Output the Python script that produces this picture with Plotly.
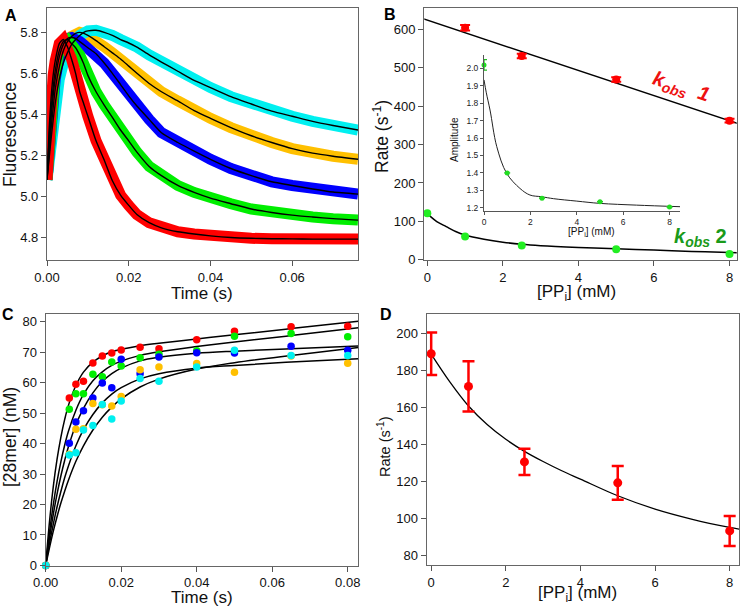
import plotly.graph_objects as go

# ---- panel A: stopped-flow fluorescence traces
a_time = [0, 0.0005, 0.001, 0.0015, 0.002, 0.003, 0.004, 0.005, 0.006, 0.007,
          0.008, 0.009, 0.010, 0.012, 0.014, 0.016, 0.018, 0.020, 0.022, 0.025,
          0.028, 0.032, 0.036, 0.040, 0.045, 0.050, 0.055, 0.060, 0.065, 0.070, 0.0761]
a_red = [5.08, 5.32, 5.48, 5.59, 5.66, 5.745, 5.765, 5.73, 5.67, 5.60,
         5.51, 5.45, 5.39, 5.27, 5.176, 5.075, 5.005, 4.955, 4.91, 4.87,
         4.845, 4.826, 4.815, 4.806, 4.798, 4.794, 4.792, 4.791, 4.790, 4.790, 4.790]
a_green = [5.08, 5.27, 5.42, 5.53, 5.61, 5.71, 5.755, 5.765, 5.745, 5.725,
           5.69, 5.645, 5.59, 5.51, 5.445, 5.385, 5.323, 5.27, 5.215, 5.145,
           5.10, 5.052, 5.018, 4.99, 4.963, 4.937, 4.92, 4.907, 4.898, 4.89, 4.883]
a_blue = [5.08, 5.24, 5.38, 5.49, 5.57, 5.68, 5.74, 5.77, 5.775, 5.77,
          5.755, 5.74, 5.725, 5.695, 5.65, 5.60, 5.545, 5.49, 5.44, 5.375,
          5.31, 5.262, 5.22, 5.18, 5.135, 5.10, 5.07, 5.052, 5.035, 5.02, 5.01]
a_orange = [5.08, 5.20, 5.33, 5.43, 5.52, 5.63, 5.71, 5.755, 5.78, 5.795,
            5.80, 5.795, 5.785, 5.76, 5.73, 5.70, 5.67, 5.635, 5.60, 5.55,
            5.51, 5.465, 5.418, 5.38, 5.335, 5.295, 5.262, 5.232, 5.21, 5.195, 5.18]
a_cyan = [5.08, 5.18, 5.28, 5.37, 5.45, 5.57, 5.65, 5.70, 5.74, 5.765,
          5.785, 5.80, 5.807, 5.81, 5.80, 5.785, 5.765, 5.748, 5.728, 5.69,
          5.655, 5.61, 5.565, 5.53, 5.486, 5.45, 5.415, 5.39, 5.365, 5.345, 5.323]

# ---- panel B: observed rates vs [PPi], inset amplitude
b_ppi = [0, 1, 2.5, 5, 8]
b_k1_x = [1, 2.5, 5, 8]
b_k1 = [603.5, 530, 469, 362]
b_k1_err = [7, 6, 6, 5]
b_k1_fit_x = [-0.1, 8.3]
b_k1_fit = [626.5, 351.8]
b_k2 = [121, 60.6, 37.2, 27.7, 15.6]
b_k2_fit_x = [-0.1, 0, 0.25, 0.5, 0.75, 1, 1.5, 2, 2.5, 3, 4, 5, 6, 7, 8, 8.3]
b_k2_fit = [126, 119.5, 99.6, 86.6, 74, 65, 54, 46, 40.5, 37, 32.5, 29, 25.5, 22, 19, 18]
inset_amp = [2.02, 1.40, 1.255, 1.235, 1.204]
inset_err = [0.03, 0, 0, 0, 0]
inset_fit_x = [0, 0.1, 0.26, 0.55, 0.98, 1.55, 1.98, 2.49, 3, 4, 5, 6.58, 8.45]
inset_fit = [1.934, 1.86, 1.761, 1.551, 1.397, 1.311, 1.273, 1.263, 1.252, 1.238, 1.225, 1.215, 1.206]

# ---- panel C: quench-flow product formation
c_time = [0, 0.00625, 0.008, 0.01, 0.0125, 0.015, 0.0175, 0.02, 0.025, 0.03, 0.04, 0.05, 0.065, 0.08]
c_red = [0, 55.0, 59.5, 60.5, 66.5, 68.8, 69.8, 70.8, 71.7, 71.2, 74.1, 76.9, 78.4, 78.6]
c_green = [0, 51.3, 56.4, 56.4, 62.8, 62.0, 66.8, 65.5, 68.2, 69.4, 70.5, 75.3, 76.2, 75.1]
c_blue = [0, 40.1, 47.1, 50.8, 55.0, 59.9, 58.4, 67.7, 63.0, 68.5, 69.9, 69.8, 72.0, 70.7]
c_orange = [0, 36.5, 44.7, 44.9, 53.2, 52.8, 52.4, 55.5, 64.3, 65.2, 66.3, 63.5, 68.8, 66.4]
c_cyan = [0, 36.3, 37.0, 44.5, 46.0, 52.9, 48.1, 54.0, 61.4, 60.5, 65.2, 70.7, 69.0, 69.0]
c_fit_t = [0, 0.001, 0.002, 0.003, 0.004, 0.005, 0.006, 0.008, 0.01, 0.0125,
           0.015, 0.0175, 0.02, 0.025, 0.03, 0.04, 0.05, 0.065, 0.0828]
c_fit_red = [0, 14.3, 25.8, 34.8, 42.0, 47.8, 52.5, 59.1, 63.5, 66.8, 68.8, 70.2, 71.0, 72.2, 73.0, 74.4, 75.75, 77.8, 80.2]
c_fit_green = [0, 10.8, 19.9, 27.5, 33.9, 39.4, 44.0, 51.0, 56.2, 60.7, 63.6, 65.7, 67.1, 69.0, 70.2, 71.9, 73.4, 75.5, 78.1]
c_fit_blue = [0, 8.9, 16.7, 23.4, 29.3, 34.4, 38.9, 46.2, 51.6, 56.7, 60.4, 63.0, 64.8, 67.2, 68.4, 69.7, 70.4, 71.2, 72.1]
c_fit_orange = [0, 7.2, 13.5, 19.2, 24.2, 28.7, 32.6, 39.3, 44.6, 49.6, 53.4, 56.3, 58.4, 61.3, 63.0, 64.8, 65.7, 66.8, 67.9]
c_fit_cyan = [0, 5.8, 11.2, 16.0, 20.4, 24.3, 27.9, 34.2, 39.3, 44.5, 48.7, 52.0, 54.7, 58.6, 61.2, 64.5, 66.6, 69.0, 71.6]

# ---- panel D: burst rate vs [PPi]
d_rate = [189.2, 171.6, 130.8, 119.5, 93.5]
d_err = [11.5, 13.6, 7.1, 9.1, 8.1]
d_fit_x = [0, 0.5, 1, 1.5, 2, 2.5, 3, 3.5, 4, 5, 6, 7, 8, 8.3]
d_fit = [189, 174, 161, 151, 143, 136.5, 131, 126, 121.5, 112.5, 105.3, 99.8, 95.4, 94.3]

RED, GREEN, BLUE, ORANGE, CYAN = '#ff0000', '#00ee00', '#0000ff', '#ffc000', '#00f0f0'
FONT = 'Liberation Sans, Arial, sans-serif'
W, H = 740, 606


def dx(left, right):
    return [left / W, right / W]


def dy(top, bottom):
    return [1 - bottom / H, 1 - top / H]


fig = go.Figure()

# A: noisy data clouds drawn as broad coloured bands, fits in black
for ys, col in [(a_orange, ORANGE), (a_cyan, CYAN), (a_blue, BLUE), (a_green, GREEN), (a_red, RED)]:
    fig.add_trace(go.Scatter(x=a_time, y=ys, mode='lines', line=dict(color=col, width=11),
                             xaxis='x', yaxis='y'))
for ys in [a_orange, a_cyan, a_blue, a_green, a_red]:
    fig.add_trace(go.Scatter(x=a_time, y=ys, mode='lines',
                             line=dict(color='black', width=1.4, shape='spline', smoothing=0.6),
                             xaxis='x', yaxis='y'))

# B
fig.add_trace(go.Scatter(x=b_k1_fit_x, y=b_k1_fit, mode='lines', line=dict(color='black', width=1.5),
                         xaxis='x2', yaxis='y2'))
fig.add_trace(go.Scatter(x=b_k2_fit_x, y=b_k2_fit, mode='lines', line=dict(color='black', width=1.5, shape='spline'),
                         xaxis='x2', yaxis='y2'))
fig.add_trace(go.Scatter(x=b_k1_x, y=b_k1, mode='markers', marker=dict(color=RED, size=8),
                         error_y=dict(type='data', array=b_k1_err, color=RED, thickness=2, width=5),
                         xaxis='x2', yaxis='y2'))
fig.add_trace(go.Scatter(x=b_ppi, y=b_k2, mode='markers', marker=dict(color='#22ee22', size=8),
                         cliponaxis=False, xaxis='x2', yaxis='y2'))
# inset
fig.add_trace(go.Scatter(x=inset_fit_x, y=inset_fit, mode='lines', line=dict(color='#222', width=1, shape='spline'),
                         xaxis='x5', yaxis='y5'))
fig.add_trace(go.Scatter(x=b_ppi, y=inset_amp, mode='markers', marker=dict(color='#22dd22', size=5),
                         error_y=dict(type='data', array=inset_err, color='#22bb22', thickness=1.2, width=3),
                         cliponaxis=False, xaxis='x5', yaxis='y5'))

# C
for ys in [c_fit_red, c_fit_green, c_fit_blue, c_fit_orange, c_fit_cyan]:
    fig.add_trace(go.Scatter(x=c_fit_t, y=ys, mode='lines', line=dict(color='black', width=1.5, shape='spline'),
                             xaxis='x3', yaxis='y3'))
for ys, col in [(c_red, RED), (c_green, GREEN), (c_blue, BLUE), (c_orange, ORANGE), (c_cyan, CYAN)]:
    fig.add_trace(go.Scatter(x=c_time, y=ys, mode='markers', marker=dict(color=col, size=7.5),
                             cliponaxis=False, xaxis='x3', yaxis='y3'))

# D
fig.add_trace(go.Scatter(x=d_fit_x, y=d_fit, mode='lines', line=dict(color='black', width=1.3, shape='spline'),
                         xaxis='x4', yaxis='y4'))
fig.add_trace(go.Scatter(x=b_ppi, y=d_rate, mode='markers', marker=dict(color=RED, size=9),
                         error_y=dict(type='data', array=d_err, color=RED, thickness=2.5, width=6),
                         cliponaxis=False, xaxis='x4', yaxis='y4'))

box = dict(showline=True, mirror=True, linecolor='#666', linewidth=1.3, ticks='outside', ticklen=5,
           tickcolor='#555', showgrid=False, zeroline=False, automargin=False,
           tickfont=dict(size=13, color='#111'))
small = dict(showline=True, mirror=False, linecolor='#555', linewidth=1, ticks='outside', ticklen=3,
             tickcolor='#555', showgrid=False, zeroline=False, automargin=False,
             tickfont=dict(size=8.5, color='#222'))

fig.update_layout(
    width=W, height=H, margin=dict(l=0, r=0, t=0, b=0, autoexpand=False),
    paper_bgcolor='white', plot_bgcolor='rgba(0,0,0,0)',
    showlegend=False, font=dict(family=FONT, color='#111'),
    xaxis=dict(box, domain=dx(47, 358), range=[0, 0.0761], dtick=0.02, tickformat='.2f', anchor='y'),
    yaxis=dict(box, domain=dy(8, 260), range=[4.688, 5.919], tick0=4.8, dtick=0.2, tickformat='.1f', anchor='x'),
    xaxis2=dict(box, domain=dx(424.3, 736.7), range=[-0.08, 8.19], dtick=2, anchor='y2'),
    yaxis2=dict(box, domain=dy(8.3, 260.3), range=[-1, 654], dtick=100, anchor='x2'),
    xaxis3=dict(box, domain=dx(45.7, 358.3), range=[0, 0.0828], dtick=0.02, tickformat='.2f', anchor='y3'),
    yaxis3=dict(box, domain=dy(314, 565.7), range=[-0.1, 82.6], dtick=10, anchor='x3'),
    xaxis4=dict(box, domain=dx(426.7, 739), range=[-0.12, 8.25], dtick=2, anchor='y4'),
    yaxis4=dict(box, domain=dy(314, 565), range=[75.1, 210.7], tick0=80, dtick=20, anchor='x4'),
    xaxis5=dict(small, domain=dx(484, 680), range=[0, 8.45], dtick=2, anchor='y5'),
    yaxis5=dict(small, domain=dy(55, 210.7), range=[1.183, 2.077], dtick=0.1, tickformat='.1f', anchor='x5'),
)

# axis titles placed as paper annotations (pixel centres)
titles = [
    ('Time (s)', 202, 293.5, 0, 17),
    ('Fluorescence', 10, 135, -90, 17.5),
    ('[PP<sub>i</sub>] (mM)', 576, 292.5, 0, 17),
    ('Rate (s<sup>-1</sup>)', 381, 136, -90, 17.5),
    ('Time (s)', 202, 597, 0, 17),
    ('[28mer] (nM)', 10, 437, -90, 17.5),
    ('[PP<sub>i</sub>] (mM)', 577, 593.5, 0, 17),
    ('Rate (s<sup>-1</sup>)', 384, 447, -90, 14.5),
    ('[PP<sub>i</sub>] (mM)', 591, 232, 0, 10),
    ('Amplitude', 454, 139, -90, 10),
]
for txt, px, py, ang, sz in titles:
    fig.add_annotation(text=txt, x=px / W, y=1 - py / H, xref='paper', yref='paper',
                       xanchor='center', yanchor='middle', showarrow=False, textangle=ang,
                       font=dict(size=sz, color='#111'))

labels = [('A', 3, 5), ('B', 382, 4), ('C', 0, 304), ('D', 378, 304)]
for txt, px, py in labels:
    fig.add_annotation(text='<b>%s</b>' % txt, x=px / W, y=1 - py / H, xref='paper', yref='paper',
                       xanchor='left', yanchor='top', showarrow=False, font=dict(size=16, color='black'))

fig.add_annotation(text='<b><i>k<sub>obs</sub>  1</i></b>', x=681 / W, y=1 - 87 / H, xref='paper', yref='paper',
                   xanchor='center', yanchor='middle', showarrow=False, textangle=18,
                   font=dict(size=20, color='#ee1111'))
fig.add_annotation(text='<b><i>k<sub>obs</sub></i> 2</b>', x=700 / W, y=1 - 237 / H, xref='paper', yref='paper',
                   xanchor='center', yanchor='middle', showarrow=False,
                   font=dict(size=20, color='#1a9a1a'))

# page body has a default 8px margin; drop it so the figure sits at the window origin
fig.write_html("out.html", config={'displayModeBar': False},
               post_script="document.body.style.margin='0px';")
